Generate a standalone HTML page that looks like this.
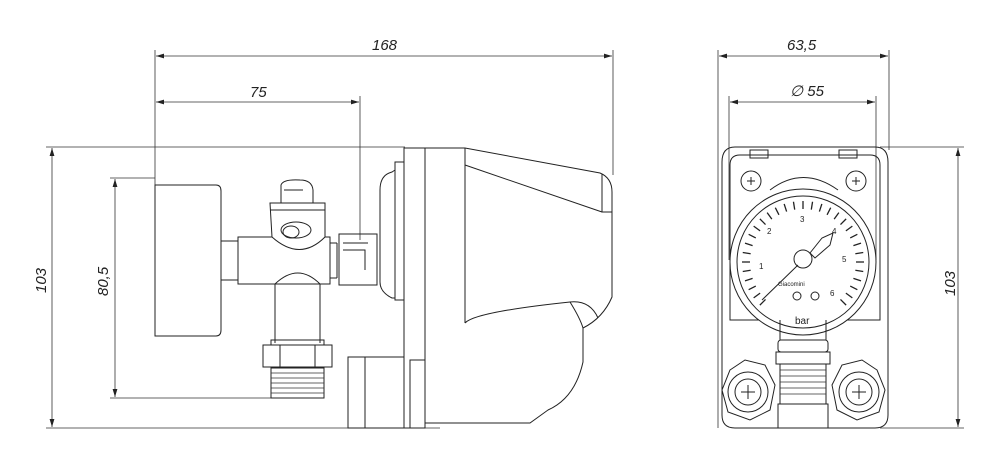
<!DOCTYPE html>
<html><head><style>
html,body{margin:0;padding:0;background:#fff;}
svg{display:block;}
text{font-family:"Liberation Sans",sans-serif;font-style:italic;font-size:15px;fill:#222;}
.s{fill:none;stroke:#222;stroke-width:1;}
.t{fill:none;stroke:#333;stroke-width:0.7;}
.d{fill:none;stroke:#333;stroke-width:0.8;}
.w{fill:#fff;stroke:#222;stroke-width:1;}
.k{stroke:#222;stroke-width:1.3;}
</style></head><body>
<svg width="1002" height="475" viewBox="0 0 1002 475" xmlns="http://www.w3.org/2000/svg">
<defs>
<marker id="a" viewBox="0 0 10 6" refX="10" refY="3" markerWidth="10" markerHeight="6" orient="auto-start-reverse"><path d="M0,0 L10,3 L0,6 z" fill="#222"/></marker>
<line id="tk" x1="803" y1="201" x2="803" y2="209"/>
</defs>
<g class="d">
<line x1="155" y1="50" x2="155" y2="185"/>
<line x1="613" y1="50" x2="613" y2="175"/>
<line x1="156" y1="56" x2="612" y2="56" marker-start="url(#a)" marker-end="url(#a)"/>
<line x1="360" y1="96" x2="360" y2="240"/>
<line x1="156" y1="102" x2="359" y2="102" marker-start="url(#a)" marker-end="url(#a)"/>
<line x1="46" y1="147" x2="405" y2="147"/>
<line x1="46" y1="428" x2="440" y2="428"/>
<line x1="52" y1="148" x2="52" y2="427" marker-start="url(#a)" marker-end="url(#a)"/>
<line x1="110" y1="178" x2="155" y2="178"/>
<line x1="110" y1="398" x2="275" y2="398"/>
<line x1="115" y1="179" x2="115" y2="397" marker-start="url(#a)" marker-end="url(#a)"/>
</g>
<text x="372" y="50">168</text>
<text x="250" y="97">75</text>
<text transform="translate(46,293) rotate(-90)">103</text>
<text transform="translate(108,296) rotate(-90)">80,5</text>
<g class="d">
<line x1="718" y1="50" x2="718" y2="428"/>
<line x1="889" y1="50" x2="889" y2="150"/>
<line x1="719" y1="56" x2="888" y2="56" marker-start="url(#a)" marker-end="url(#a)"/>
<line x1="729" y1="96" x2="729" y2="260"/>
<line x1="876" y1="96" x2="876" y2="260"/>
<line x1="730" y1="102" x2="875" y2="102" marker-start="url(#a)" marker-end="url(#a)"/>
<line x1="880" y1="147" x2="964" y2="147"/>
<line x1="880" y1="428" x2="964" y2="428"/>
<line x1="958" y1="148" x2="958" y2="427" marker-start="url(#a)" marker-end="url(#a)"/>
</g>
<text x="787" y="50">63,5</text>
<text x="790" y="96">∅ 55</text>
<text transform="translate(955,296) rotate(-90)">103</text>

<!-- Side view -->
<g class="s">
<path d="M155,185 H216 Q221,185 221,191 V330 Q221,336 216,336 H155 Z"/>
<line x1="221" y1="241" x2="238" y2="241"/><line x1="221" y1="280" x2="238" y2="280"/>
<rect x="238" y="237" width="92" height="47"/>
<line x1="330" y1="243" x2="337" y2="243"/><line x1="330" y1="278" x2="337" y2="278"/><line x1="337" y1="243" x2="337" y2="278"/>
<path d="M270,203 H325 V237 Q300,262 272,237 Z" class="w"/>
<line x1="270" y1="210" x2="325" y2="210"/>
<path d="M281,203 V185 Q283,179 300,180 Q312,180 313,190 V203"/>
<path d="M284,190 H303"/>
<ellipse cx="296" cy="230" rx="15" ry="8"/><ellipse cx="291" cy="232" rx="8" ry="6"/>
<path d="M275,284 V343 M320,284 V343"/>
<path d="M275,284 Q298,262 320,284"/>
<rect x="263" y="345" width="69" height="22"/>
<rect x="271" y="340" width="53" height="5"/>
<line x1="280" y1="345" x2="280" y2="367"/><line x1="315" y1="345" x2="315" y2="367"/>
<rect x="271" y="368" width="53" height="30"/>
<g class="t"><line x1="271" y1="373" x2="324" y2="373"/><line x1="271" y1="378" x2="324" y2="378"/><line x1="271" y1="383" x2="324" y2="383"/><line x1="271" y1="388" x2="324" y2="388"/><line x1="271" y1="393" x2="324" y2="393"/></g>
<rect x="339" y="234" width="38" height="51"/>
<line x1="343" y1="243" x2="368" y2="243"/><path d="M343,250 H365 V270"/>
<path d="M392,172 Q380,175 380,190 V282 Q380,292 392,298 H395 V170 Z"/>
<rect x="395" y="162" width="9" height="138"/>
<path d="M404,148 H425 V428 H404 Z"/>
<!-- housing -->
<path d="M425,148 H465 L600,173 Q612,178 612,192 V297 Q603,318 583,328 V362 Q575,398 548,410 L530,423 H425"/>
<path d="M465,148 V323"/>
<path d="M465,165 L602,212"/>
<path d="M602,174 V212 H612"/>
<path d="M465,323 Q475,312 570,302 Q590,300 598,318"/>
<path d="M570,302 Q580,318 583,328"/>
<path d="M425,360 H410 V428"/>
<rect x="348" y="357" width="17" height="71"/>
<rect x="365" y="357" width="39" height="71"/>
</g>

<!-- Front view -->
<g class="s">
<path d="M735,147 H875 Q888,147 888,162 V415 Q888,428 875,428 H735 Q722,428 722,415 V162 Q722,147 735,147 Z"/>
<path d="M740,155 H870 Q880,155 880,165 V320 H730 V165 Q730,155 740,155 Z"/>
<rect x="750" y="150" width="18" height="8"/><rect x="839" y="150" width="18" height="8"/>
<circle cx="751" cy="181" r="10"/><circle cx="856" cy="181" r="10"/>
<path d="M747,181 h8 M751,177 v8 M852,181 h8 M856,177 v8"/>
<path d="M770,190 Q803,165 838,190"/>
<circle cx="803" cy="262" r="73" class="w"/>
<circle cx="803" cy="262" r="66"/>
<circle cx="803" cy="259" r="9"/>
<path d="M810,253 L822,238 L833,233 L830,245 L815,258 Z"/>
<line x1="798" y1="265" x2="762" y2="300"/>
</g>
<g class="k">
<use href="#tk" transform="rotate(-135 803 262)"/><use href="#tk" transform="rotate(-126 803 262)"/><use href="#tk" transform="rotate(-117 803 262)"/><use href="#tk" transform="rotate(-108 803 262)"/><use href="#tk" transform="rotate(-99 803 262)"/><use href="#tk" transform="rotate(-90 803 262)"/><use href="#tk" transform="rotate(-81 803 262)"/><use href="#tk" transform="rotate(-72 803 262)"/><use href="#tk" transform="rotate(-63 803 262)"/><use href="#tk" transform="rotate(-54 803 262)"/><use href="#tk" transform="rotate(-45 803 262)"/><use href="#tk" transform="rotate(-36 803 262)"/><use href="#tk" transform="rotate(-27 803 262)"/><use href="#tk" transform="rotate(-18 803 262)"/><use href="#tk" transform="rotate(-9 803 262)"/><use href="#tk" transform="rotate(0 803 262)"/><use href="#tk" transform="rotate(9 803 262)"/><use href="#tk" transform="rotate(18 803 262)"/><use href="#tk" transform="rotate(27 803 262)"/><use href="#tk" transform="rotate(36 803 262)"/><use href="#tk" transform="rotate(45 803 262)"/><use href="#tk" transform="rotate(54 803 262)"/><use href="#tk" transform="rotate(63 803 262)"/><use href="#tk" transform="rotate(72 803 262)"/><use href="#tk" transform="rotate(81 803 262)"/><use href="#tk" transform="rotate(90 803 262)"/><use href="#tk" transform="rotate(99 803 262)"/><use href="#tk" transform="rotate(108 803 262)"/><use href="#tk" transform="rotate(117 803 262)"/><use href="#tk" transform="rotate(126 803 262)"/><use href="#tk" transform="rotate(135 803 262)"/>
</g>
<g class="s">
<circle cx="797" cy="296" r="4"/><circle cx="815" cy="296" r="4"/>
<path d="M780,320 V340 M826,320 V340"/>
<rect x="778" y="340" width="50" height="12" rx="3"/>
<rect x="776" y="352" width="54" height="12"/>
<rect x="780" y="364" width="46" height="40"/>
<g class="t"><line x1="780" y1="370" x2="826" y2="370"/><line x1="780" y1="376" x2="826" y2="376"/><line x1="780" y1="382" x2="826" y2="382"/><line x1="780" y1="388" x2="826" y2="388"/><line x1="780" y1="394" x2="826" y2="394"/></g>
<path d="M730,370 L745,360 L765,365 L775,385 L770,410 L750,420 L728,412 L722,390 Z" class="w"/>
<circle cx="748" cy="392" r="20"/><circle cx="748" cy="392" r="13"/>
<path d="M741,392 h14 M748,385 v14"/>
<path d="M877,370 L862,360 L842,365 L832,385 L837,410 L857,420 L879,412 L885,390 Z" class="w"/>
<circle cx="859" cy="392" r="20"/><circle cx="859" cy="392" r="13"/>
<path d="M852,392 h14 M859,385 v14"/>
<rect x="778" y="404" width="50" height="24"/>
</g>
<g>
<text x="800" y="222" style="font-size:8px;font-style:normal">3</text>
<text x="767" y="234" style="font-size:8px;font-style:normal">2</text>
<text x="832" y="234" style="font-size:8px;font-style:normal">4</text>
<text x="759" y="269" style="font-size:8px;font-style:normal">1</text>
<text x="842" y="262" style="font-size:8px;font-style:normal">5</text>
<text x="830" y="296" style="font-size:8px;font-style:normal">6</text>
<text x="795" y="324" style="font-size:10px;font-style:normal">bar</text>
<text x="778" y="286" style="font-size:6px;font-style:normal">Giacomini</text>
</g>
</svg>
</body></html>
